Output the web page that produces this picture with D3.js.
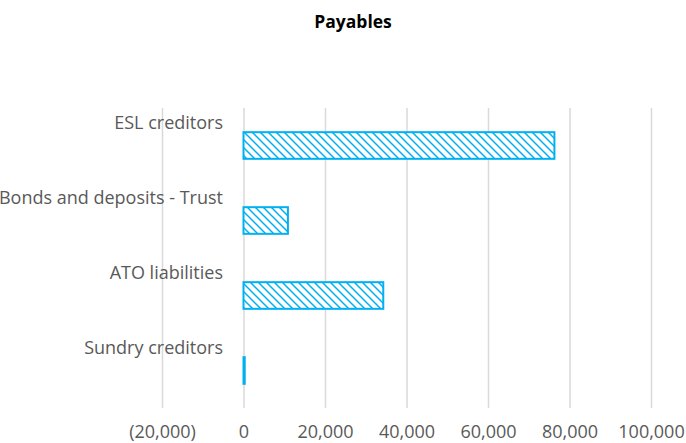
<!DOCTYPE html>
<html>
<head>
<meta charset="utf-8">
<script src="https://cdn.jsdelivr.net/npm/d3@7/dist/d3.min.js"></script>
<style>
  html, body { margin: 0; padding: 0; background: #fff; }
  svg { display: block; }
</style>
</head>
<body>
<svg id="chart" width="686" height="443"></svg>
<script>
// Payables by category
const categories = ["ESL creditors", "Bonds and deposits - Trust", "ATO liabilities", "Sundry creditors"];
const values = [76300, 10900, 34300, 300];
const tickValues = [-20000, 0, 20000, 40000, 60000, 80000, 100000];
const tickLabels = ["(20,000)", "0", "20,000", "40,000", "60,000", "80,000", "100,000"];

const svg = d3.select("#chart");
const plot = { left: 162, right: 651, top: 108, bottom: 408 };
const font = "'Open Sans', sans-serif";
const blue = "#00b0f0";
const grey = "#595959";

const x = d3.scaleLinear().domain([-20000, 100000]).range([plot.left, plot.right]);
const y = d3.scaleBand().domain(categories).range([plot.top, plot.bottom]).paddingInner(0.645).paddingOuter(0.3225);

// Diagonal hatch fill
const defs = svg.append("defs");
const pat = defs.append("pattern")
  .attr("id", "hatch")
  .attr("patternUnits", "userSpaceOnUse")
  .attr("width", 8).attr("height", 8);
pat.append("rect").attr("width", 8).attr("height", 8).attr("fill", "#fff");
pat.append("path")
  .attr("d", "M-1,-1 L9,9 M-1,7 L1,9 M7,-1 L9,1")
  .attr("stroke", blue).attr("stroke-width", 1.5);

// Title
svg.append("text")
  .attr("x", 353).attr("y", 28)
  .attr("text-anchor", "middle")
  .attr("font-family", font).attr("font-size", 17.5).attr("font-weight", "bold")
  .attr("fill", "#000")
  .text("Payables");

// Vertical gridlines and tick labels
const xAxis = d3.axisBottom(x)
  .tickValues(tickValues)
  .tickSize(-(plot.bottom - plot.top))
  .tickFormat((d, i) => tickLabels[i]);
const gx = svg.append("g")
  .attr("transform", `translate(0,${plot.bottom})`)
  .call(xAxis);
gx.select(".domain").remove();
gx.selectAll(".tick line").attr("stroke", "#d9d9d9").attr("stroke-width", 1.5);
gx.selectAll(".tick text")
  .attr("y", 17)
  .attr("font-family", font).attr("font-size", 18)
  .attr("fill", grey);

// Bars
svg.append("g").selectAll("rect")
  .data(categories)
  .join("rect")
  .attr("x", d => x(0))
  .attr("y", d => y(d))
  .attr("width", (d, i) => Math.max(1, x(values[i]) - x(0)))
  .attr("height", y.bandwidth())
  .attr("fill", "url(#hatch)")
  .attr("stroke", blue)
  .attr("stroke-width", 2);

// Category labels above each bar
svg.append("g").selectAll("text")
  .data(categories)
  .join("text")
  .attr("x", 223)
  .attr("y", d => y(d) + y.bandwidth() / 2 - 17)
  .attr("text-anchor", "end")
  .attr("font-family", font).attr("font-size", 18)
  .attr("fill", grey)
  .text(d => d);
</script>
</body>
</html>
